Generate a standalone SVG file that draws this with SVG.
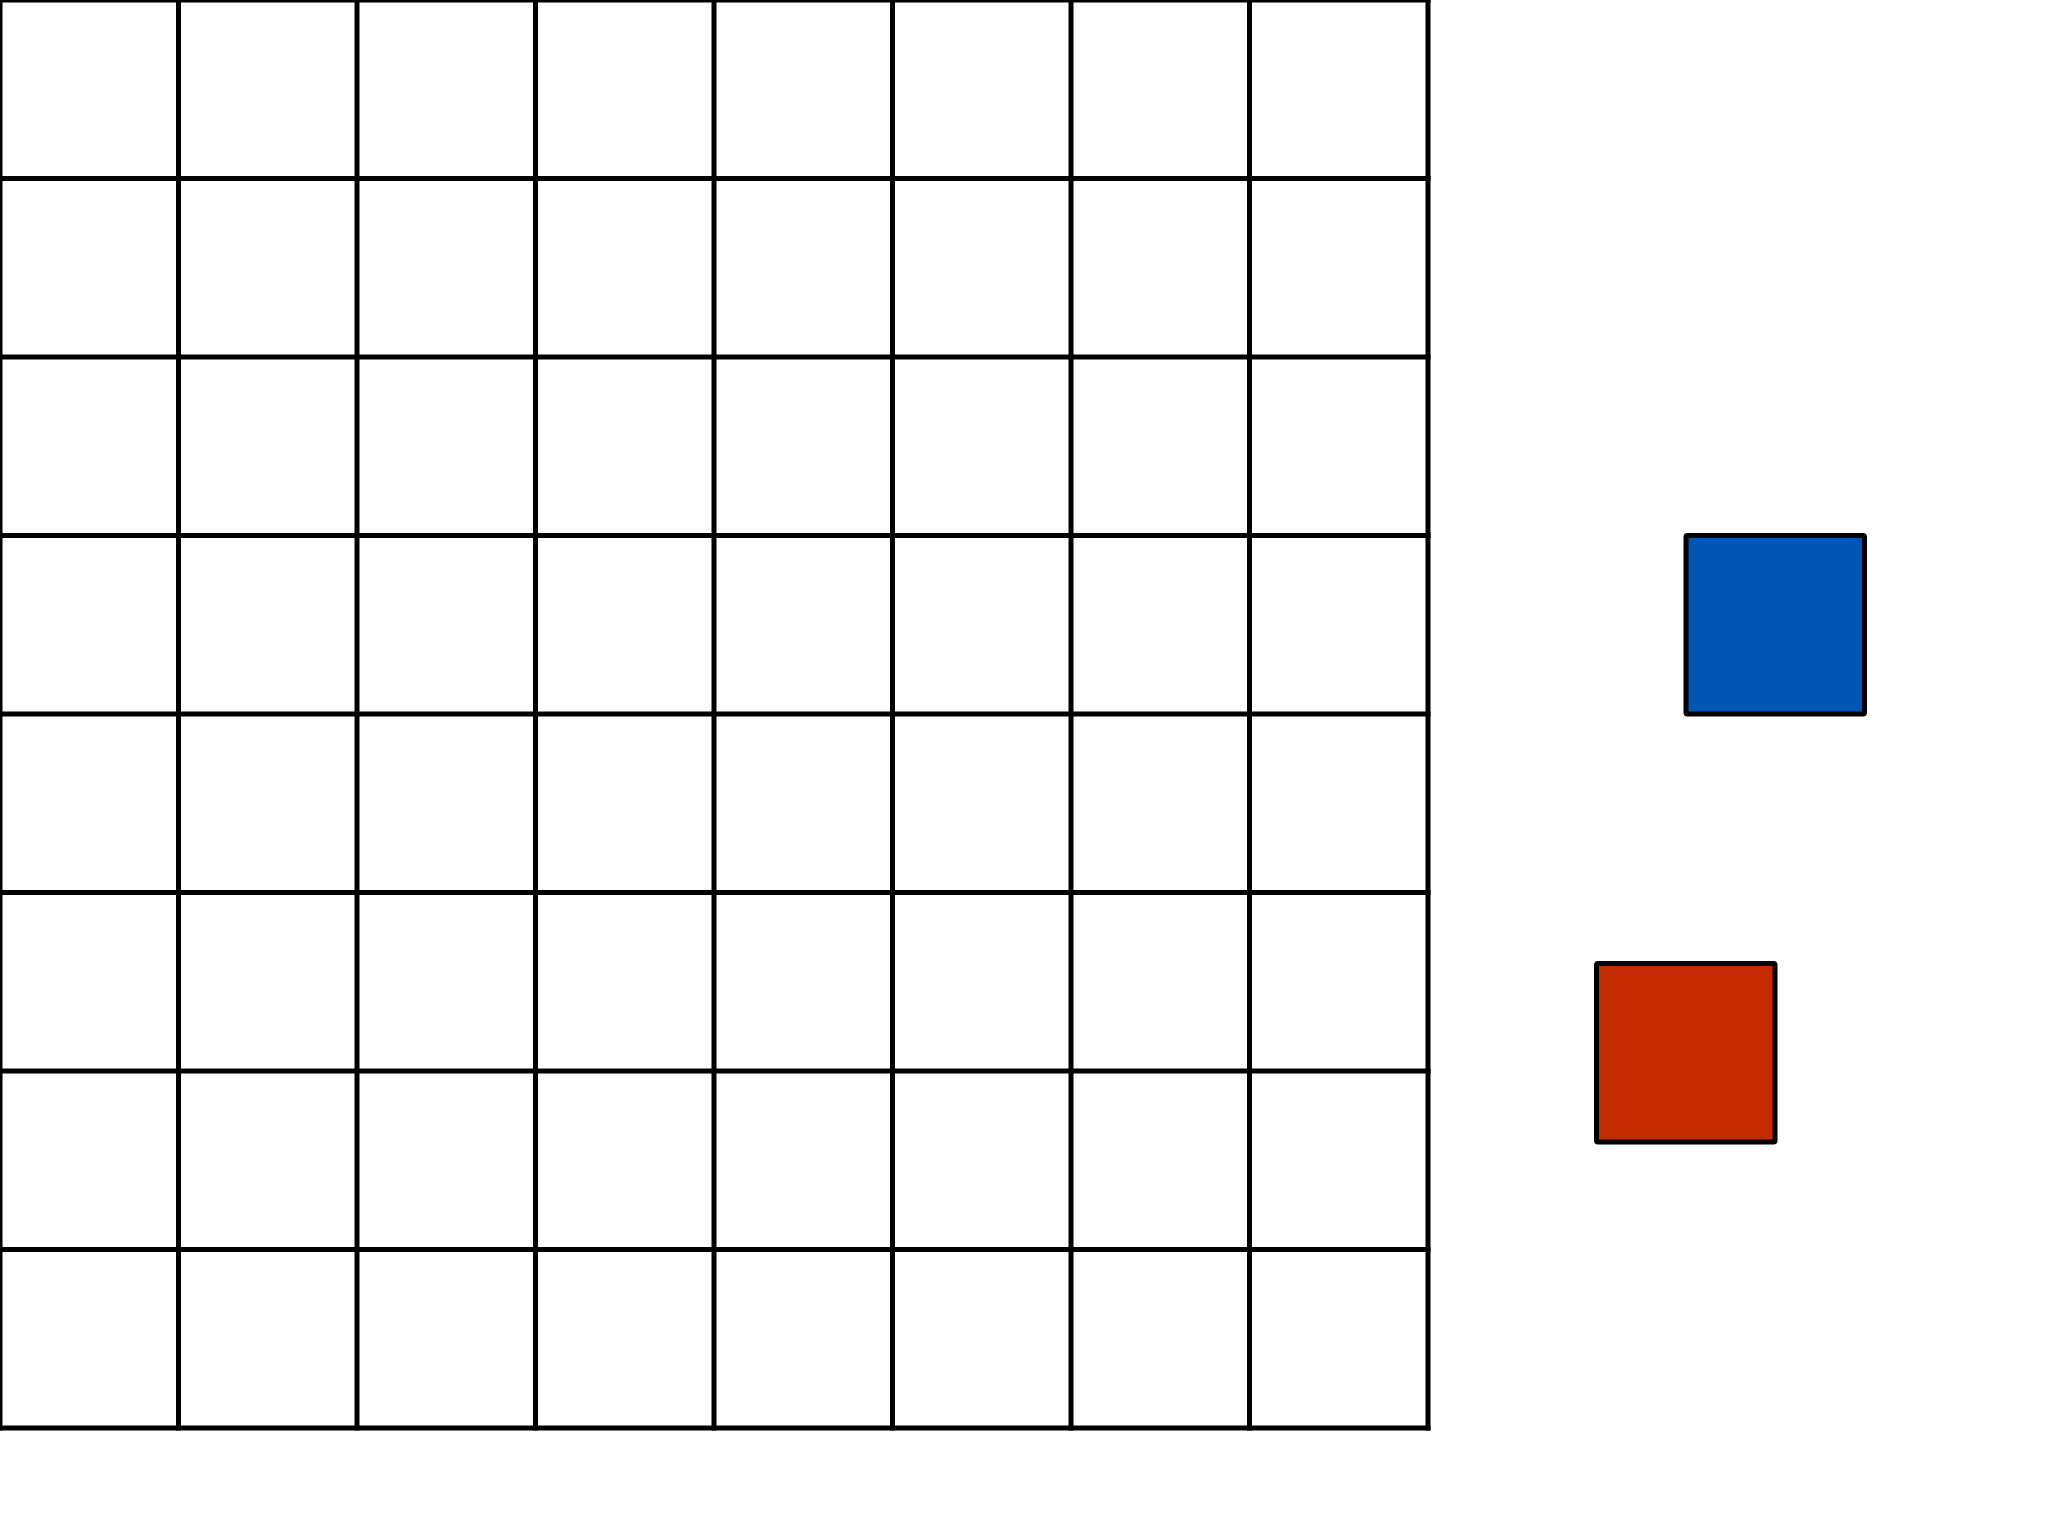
<svg xmlns="http://www.w3.org/2000/svg" width="2048" height="1536" viewBox="0 0 2048 1536">
<style>
.grid line{stroke:#000;stroke-width:5;stroke-linecap:square}
.sq{stroke:#000;stroke-width:5;stroke-linejoin:round}
</style>
<rect width="2048" height="1536" fill="#fff"/>
<g id="grid" class="grid">
<line x1="0" y1="0" x2="0" y2="1428"/>
<line x1="178.5" y1="0" x2="178.5" y2="1428"/>
<line x1="357" y1="0" x2="357" y2="1428"/>
<line x1="535.5" y1="0" x2="535.5" y2="1428"/>
<line x1="714" y1="0" x2="714" y2="1428"/>
<line x1="892.5" y1="0" x2="892.5" y2="1428"/>
<line x1="1071" y1="0" x2="1071" y2="1428"/>
<line x1="1249.5" y1="0" x2="1249.5" y2="1428"/>
<line x1="1428" y1="0" x2="1428" y2="1428"/>
<line x1="0" y1="0" x2="1428" y2="0"/>
<line x1="0" y1="178.5" x2="1428" y2="178.5"/>
<line x1="0" y1="357" x2="1428" y2="357"/>
<line x1="0" y1="535.5" x2="1428" y2="535.5"/>
<line x1="0" y1="714" x2="1428" y2="714"/>
<line x1="0" y1="892.5" x2="1428" y2="892.5"/>
<line x1="0" y1="1071" x2="1428" y2="1071"/>
<line x1="0" y1="1249.5" x2="1428" y2="1249.5"/>
<line x1="0" y1="1428" x2="1428" y2="1428"/>
</g>
<g id="blue-square"><rect class="sq" x="1686" y="535.5" width="178.5" height="178.5" rx="1.5" fill="#0055b5"/></g>
<g id="red-square"><rect class="sq" x="1596.5" y="963.5" width="178.5" height="178.5" rx="1.5" fill="#c42b00"/></g>
</svg>
